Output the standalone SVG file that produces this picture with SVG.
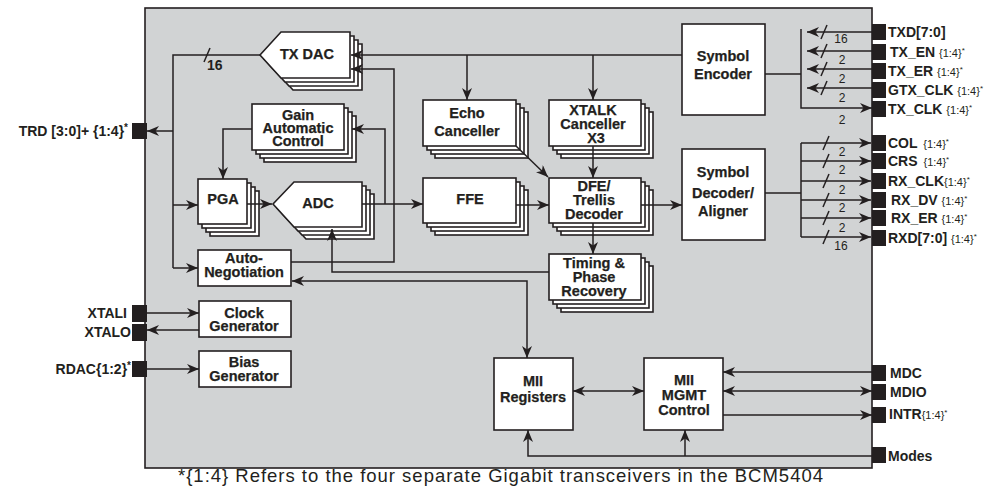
<svg xmlns="http://www.w3.org/2000/svg" width="993" height="488" viewBox="0 0 993 488">
<defs>
<style>
.bx{fill:#fff;stroke:#231f20;stroke-width:1.6}
.ln{fill:none;stroke:#231f20;stroke-width:1.5}
.ar{marker-end:url(#ah)}
.ar2{marker-start:url(#ah);marker-end:url(#ah)}
.t{font-family:"Liberation Sans",Arial,sans-serif;font-weight:bold;font-size:14.5px;fill:#231f20;stroke:#231f20;stroke-width:0.25;text-anchor:middle}
.pl{font-family:"Liberation Sans",Arial,sans-serif;font-weight:bold;font-size:14px;fill:#231f20}
.pe{text-anchor:end}
.sm{font-weight:normal;font-size:11px}
.nb{font-family:"Liberation Sans",Arial,sans-serif;font-size:12px;fill:#231f20;text-anchor:middle}
.pin{fill:#231f20}
.cap{font-family:"Liberation Sans",Arial,sans-serif;font-size:18.5px;fill:#231f20}
</style>
<marker id="ah" viewBox="0 0 12 10" refX="12" refY="5" markerWidth="12" markerHeight="10" markerUnits="userSpaceOnUse" orient="auto-start-reverse">
<path d="M0,0 L12,5 L0,10 L3.5,5 Z" fill="#231f20"/>
</marker>
</defs>

<rect id="chip" x="145" y="8" width="727" height="460" fill="#d1d3d4" stroke="#231f20" stroke-width="1.6"/>

<g id="txdac">
<polygon class="bx" points="272,67 293,44 362,44 362,90 293,90"/>
<polygon class="bx" points="268,63 289,40 358,40 358,86 289,86"/>
<polygon class="bx" points="264,59 285,36 354,36 354,82 285,82"/>
<polygon class="bx" points="260,55 281,32 350,32 350,78 281,78"/>
<text class="t" x="307" y="59">TX DAC</text>
</g>

<g id="gain">
<rect class="bx" x="264" y="116" width="92" height="46"/>
<rect class="bx" x="260" y="112" width="92" height="46"/>
<rect class="bx" x="256" y="108" width="92" height="46"/>
<rect class="bx" x="252" y="104" width="92" height="46"/>
<text class="t" x="298" y="120">Gain<tspan x="298" dy="13">Automatic</tspan><tspan x="298" dy="13">Control</tspan></text>
</g>

<g id="pga">
<rect class="bx" x="210" y="191" width="49" height="45"/>
<rect class="bx" x="206" y="187" width="49" height="45"/>
<rect class="bx" x="202" y="183" width="49" height="45"/>
<rect class="bx" x="198" y="179" width="49" height="45"/>
<text class="t" x="223" y="204">PGA</text>
</g>

<g id="adc">
<polygon class="bx" points="285,216 306,194 374,194 374,239 306,239"/>
<polygon class="bx" points="281,212 302,190 370,190 370,235 302,235"/>
<polygon class="bx" points="277,208 298,186 366,186 366,231 298,231"/>
<polygon class="bx" points="273,204 294,182 362,182 362,227 294,227"/>
<text class="t" x="318" y="208">ADC</text>
</g>

<g id="autoneg">
<rect class="bx" x="198" y="250" width="93" height="36"/>
<text class="t" x="244" y="263">Auto-<tspan x="244" dy="14">Negotiation</tspan></text>
</g>

<g id="clockgen">
<rect class="bx" x="199" y="301" width="92" height="36"/>
<text class="t" x="244" y="318">Clock<tspan x="244" dy="13">Generator</tspan></text>
</g>

<g id="biasgen">
<rect class="bx" x="199" y="351" width="92" height="36"/>
<text class="t" x="244" y="367">Bias<tspan x="244" dy="14">Generator</tspan></text>
</g>

<g id="echo">
<rect class="bx" x="435" y="112" width="93" height="46"/>
<rect class="bx" x="431" y="108" width="93" height="46"/>
<rect class="bx" x="427" y="104" width="93" height="46"/>
<rect class="bx" x="423" y="100" width="93" height="46"/>
<text class="t" x="467" y="118">Echo<tspan x="467" dy="18">Canceller</tspan></text>
</g>

<g id="xtalk">
<rect class="bx" x="561" y="112" width="92" height="46"/>
<rect class="bx" x="557" y="108" width="92" height="46"/>
<rect class="bx" x="553" y="104" width="92" height="46"/>
<rect class="bx" x="549" y="100" width="92" height="46"/>
<text class="t" x="593" y="115">XTALK<tspan x="593" dy="14">Canceller</tspan><tspan x="596" dy="14">X3</tspan></text>
</g>

<g id="ffe">
<rect class="bx" x="435" y="190" width="93" height="45"/>
<rect class="bx" x="431" y="186" width="93" height="45"/>
<rect class="bx" x="427" y="182" width="93" height="45"/>
<rect class="bx" x="423" y="178" width="93" height="45"/>
<text class="t" x="470" y="204">FFE</text>
</g>

<g id="dfe">
<rect class="bx" x="561" y="190" width="92" height="45"/>
<rect class="bx" x="557" y="186" width="92" height="45"/>
<rect class="bx" x="553" y="182" width="92" height="45"/>
<rect class="bx" x="549" y="178" width="92" height="45"/>
<text class="t" x="594" y="191">DFE/<tspan x="594" dy="14">Trellis</tspan><tspan x="594" dy="14">Decoder</tspan></text>
</g>

<g id="timing">
<rect class="bx" x="561" y="266" width="92" height="46"/>
<rect class="bx" x="557" y="262" width="92" height="46"/>
<rect class="bx" x="553" y="258" width="92" height="46"/>
<rect class="bx" x="549" y="254" width="92" height="46"/>
<text class="t" x="594" y="268">Timing &amp;<tspan x="594" dy="14">Phase</tspan><tspan x="594" dy="14">Recovery</tspan></text>
</g>

<g id="symenc">
<rect class="bx" x="682" y="24" width="83" height="91"/>
<text class="t" x="723" y="61">Symbol<tspan x="723" dy="18">Encoder</tspan></text>
</g>

<g id="symdec">
<rect class="bx" x="682" y="149" width="83" height="91"/>
<text class="t" x="723" y="177">Symbol<tspan x="723" dy="21">Decoder/</tspan><tspan x="723" dy="18">Aligner</tspan></text>
</g>

<g id="miireg">
<rect class="bx" x="494" y="358" width="79" height="72"/>
<text class="t" x="533" y="386">MII<tspan x="533" dy="16">Registers</tspan></text>
</g>

<g id="miimgmt">
<rect class="bx" x="644" y="358" width="79" height="72"/>
<text class="t" x="684" y="385">MII<tspan x="684" dy="15">MGMT</tspan><tspan x="684" dy="15">Control</tspan></text>
</g>

<g id="pins-left">
<rect class="pin" x="132" y="123" width="15" height="16"/>
<text class="pl pe" x="128" y="136">TRD [3:0]+ {1:4}<tspan font-size="10" dy="-5">*</tspan></text>
<rect class="pin" x="132" y="305" width="15" height="17"/>
<text class="pl pe" x="127" y="318">XTALI</text>
<rect class="pin" x="132" y="324" width="15" height="17"/>
<text class="pl pe" x="131" y="337">XTALO</text>
<rect class="pin" x="132" y="361" width="15" height="16"/>
<text class="pl pe" x="131" y="374">RDAC{1:2}<tspan font-size="10" dy="-5">*</tspan></text>
</g>

<g id="pins-right">
<rect class="pin" x="872" y="24" width="14" height="16"/>
<text class="pl" x="888" y="37">TXD[7:0]</text>
<rect class="pin" x="872" y="44" width="14" height="16"/>
<text class="pl" x="890" y="57">TX_EN <tspan class="sm">{1:4}<tspan font-size="8" dy="-4">*</tspan></tspan></text>
<rect class="pin" x="872" y="63" width="14" height="16"/>
<text class="pl" x="888" y="76">TX_ER <tspan class="sm">{1:4}<tspan font-size="8" dy="-4">*</tspan></tspan></text>
<rect class="pin" x="872" y="82" width="14" height="16"/>
<text class="pl" x="888" y="95">GTX_CLK <tspan class="sm">{1:4}<tspan font-size="8" dy="-4">*</tspan></tspan></text>
<rect class="pin" x="872" y="101" width="14" height="16"/>
<text class="pl" x="888" y="114">TX_CLK <tspan class="sm">{1:4}<tspan font-size="8" dy="-4">*</tspan></tspan></text>
<rect class="pin" x="872" y="135" width="14" height="16"/>
<text class="pl" x="888" y="148">COL <tspan class="sm" dx="2">{1:4}<tspan font-size="8" dy="-4">*</tspan></tspan></text>
<rect class="pin" x="872" y="153" width="14" height="16"/>
<text class="pl" x="888" y="166">CRS <tspan class="sm" dx="2">{1:4}<tspan font-size="8" dy="-4">*</tspan></tspan></text>
<rect class="pin" x="872" y="173" width="14" height="16"/>
<text class="pl" x="888" y="186">RX_CLK<tspan class="sm">{1:4}<tspan font-size="8" dy="-4">*</tspan></tspan></text>
<rect class="pin" x="872" y="192" width="14" height="16"/>
<text class="pl" x="891" y="205">RX_DV <tspan class="sm">{1:4}<tspan font-size="8" dy="-4">*</tspan></tspan></text>
<rect class="pin" x="872" y="210" width="14" height="16"/>
<text class="pl" x="891" y="223">RX_ER <tspan class="sm">{1:4}<tspan font-size="8" dy="-4">*</tspan></tspan></text>
<rect class="pin" x="872" y="230" width="14" height="16"/>
<text class="pl" x="888" y="243">RXD[7:0] <tspan class="sm">{1:4}<tspan font-size="8" dy="-4">*</tspan></tspan></text>
<rect class="pin" x="872" y="365" width="14" height="16"/>
<text class="pl" x="890" y="378" font-size="13">MDC</text>
<rect class="pin" x="872" y="384" width="14" height="16"/>
<text class="pl" x="890" y="397" font-size="13">MDIO</text>
<rect class="pin" x="872" y="407" width="14" height="16"/>
<text class="pl" x="889" y="419" font-size="13">INTR<tspan class="sm" font-size="10">{1:4}<tspan font-size="8" dy="-4">*</tspan></tspan></text>
<rect class="pin" x="872" y="447" width="14" height="16"/>
<text class="pl" x="888" y="461" font-size="13">Modes</text>
</g>

<g id="connectors">
<path class="ln" d="M260,55 H173 V268"/>
<path class="ln ar" d="M173,131 H147"/>
<path class="ln ar" d="M173,205 H198"/>
<path class="ln ar" d="M173,268 H198"/>
<line class="ln" x1="204" y1="62" x2="210" y2="48"/>
<text class="pl" x="207" y="70" font-size="13">16</text>
<path class="ln ar" d="M682,55 H351"/>
<path class="ln ar" d="M467,55 V100"/>
<path class="ln ar" d="M593,55 V100"/>
<path class="ln ar" d="M291,262 H394 V69 H351"/>
<path class="ln ar" d="M362,204 H423"/>
<path class="ln ar" d="M385,204 V129 H352"/>
<path class="ln ar" d="M252,129 H223 V179"/>
<path class="ln ar" d="M247,204 H272"/>
<path class="ln ar" d="M516,146 L548,177"/>
<path class="ln ar" d="M593,146 V178"/>
<path class="ln ar" d="M516,205 H549"/>
<path class="ln ar" d="M641,205 H682"/>
<path class="ln ar" d="M593,223 V254"/>
<path class="ln ar" d="M549,272 H332 V229"/>
<path class="ln ar2" d="M292,281 H527 V358"/>
<path class="ln ar2" d="M573,391 H644"/>
<path class="ln ar" d="M872,372 H723"/>
<path class="ln ar2" d="M723,391 H872"/>
<path class="ln ar" d="M723,415 H872"/>
<path class="ln ar" d="M872,456 H528 V430"/>
<path class="ln ar" d="M685,456 V430"/>
<path class="ln ar" d="M147,313 H199"/>
<path class="ln ar" d="M199,330 H147"/>
<path class="ln ar" d="M147,369 H199"/>
<path class="ln" d="M765,74 H801"/>
<path class="ln ar" d="M801,29 V108 H872"/>
<path class="ln ar" d="M872,32 H807"/>
<path class="ln ar" d="M872,51 H807"/>
<path class="ln ar" d="M872,69 H807"/>
<path class="ln ar" d="M872,88 H807"/>
<line class="ln" x1="821" y1="39" x2="827" y2="25"/>
<line class="ln" x1="821" y1="58" x2="827" y2="44"/>
<line class="ln" x1="821" y1="76" x2="827" y2="62"/>
<line class="ln" x1="821" y1="95" x2="827" y2="81"/>
<text class="nb" x="841" y="43">16</text>
<text class="nb" x="842" y="64">2</text>
<text class="nb" x="842" y="83">2</text>
<text class="nb" x="842" y="102">2</text>
<text class="nb" x="842" y="124">2</text>
<path class="ln" d="M765,193 H801"/>
<path class="ln" d="M801,143 V237"/>
<path class="ln ar" d="M801,143 H871"/>
<path class="ln ar" d="M801,161 H871"/>
<path class="ln ar" d="M801,181 H871"/>
<path class="ln ar" d="M801,200 H871"/>
<path class="ln ar" d="M801,218 H871"/>
<path class="ln ar" d="M801,237 H871"/>
<line class="ln" x1="823" y1="150" x2="829" y2="136"/>
<line class="ln" x1="823" y1="168" x2="829" y2="154"/>
<line class="ln" x1="823" y1="188" x2="829" y2="174"/>
<line class="ln" x1="823" y1="207" x2="829" y2="193"/>
<line class="ln" x1="823" y1="225" x2="829" y2="211"/>
<line class="ln" x1="823" y1="244" x2="829" y2="230"/>
<text class="nb" x="842" y="156">2</text>
<text class="nb" x="842" y="174">2</text>
<text class="nb" x="842" y="194">2</text>
<text class="nb" x="842" y="212">2</text>
<text class="nb" x="842" y="232">2</text>
<text class="nb" x="841" y="250">16</text>
</g>

<text class="cap" x="178" y="482" textLength="645" lengthAdjust="spacing">*{1:4} Refers to the four separate Gigabit transceivers in the BCM5404</text>
</svg>
